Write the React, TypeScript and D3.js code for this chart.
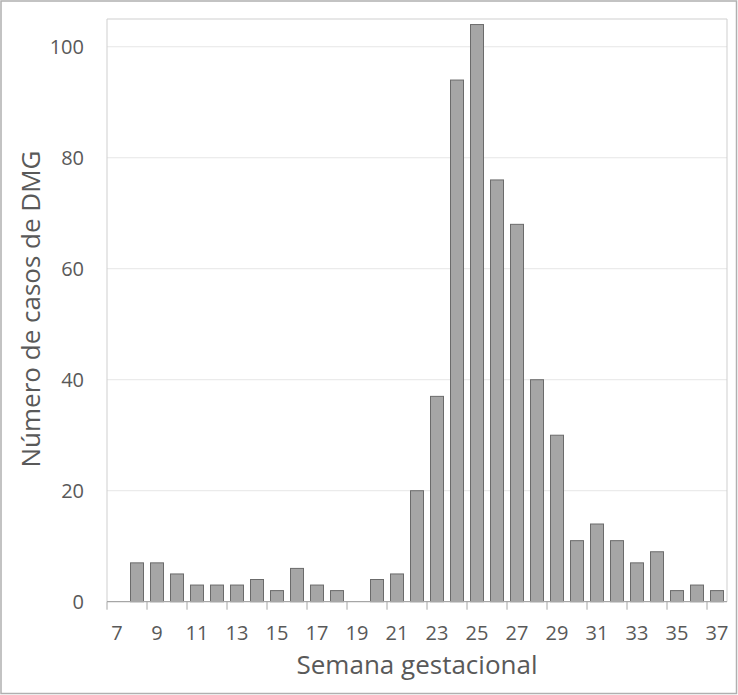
import React from "react";
import * as d3 from "d3";

const weeks: number[] = [7,8,9,10,11,12,13,14,15,16,17,18,19,20,21,22,23,24,25,26,27,28,29,30,31,32,33,34,35,36,37];
const cases: number[] = [0,7,7,5,3,3,3,4,2,6,3,2,0,4,5,20,37,94,104,76,68,40,30,11,14,11,7,9,2,3,2];
const yTicks: number[] = [0,20,40,60,80,100];
const xTickLabels: number[] = [7,9,11,13,15,17,19,21,23,25,27,29,31,33,35,37];

const W = 738, H = 695;
const left = 107, right = 727, top = 19, bottom = 601.7;

export default function App() {
  const x = d3.scaleBand<number>().domain(weeks).range([left, right]).paddingInner(0.35).paddingOuter(0.175);
  const xb = d3.scaleBand<number>().domain(weeks).range([left, right]);
  const y = d3.scaleLinear().domain([0, 105]).range([bottom, top]);
  const font = "'Open Sans', 'Liberation Sans', sans-serif";
  return (
    <div style={{ position: "absolute", left: 0, top: 0 }}>
      <svg width={W} height={H} style={{ display: "block" }}>
        <rect x={0} y={0} width={W} height={H} fill="#fff" />
        <rect x={1} y={1} width={W - 2.5} height={H - 2.5} fill="none" stroke="#b0b0b0" strokeWidth={1.5} />
        {yTicks.filter(t => t > 0).map(t => (
          <line key={t} x1={left} x2={right} y1={y(t)} y2={y(t)} stroke="#e6e6e6" strokeWidth={1} />
        ))}
        <line x1={left} x2={right} y1={top} y2={top} stroke="#cfcfcf" strokeWidth={1} />
        <line x1={left} x2={left} y1={top} y2={bottom} stroke="#cfcfcf" strokeWidth={1} />
        <line x1={right} x2={right} y1={top} y2={bottom} stroke="#cfcfcf" strokeWidth={1} />
        {weeks.map((w, i) => cases[i] > 0 ? (
          <rect key={w} x={x(w)} y={y(cases[i])} width={x.bandwidth()} height={bottom - y(cases[i])}
            fill="#a6a6a6" stroke="#6b6b6b" strokeWidth={1} />
        ) : null)}
        <line x1={left} x2={right} y1={bottom} y2={bottom} stroke="#a6a6a6" strokeWidth={1.2} />
        {xTickLabels.map(w => (
          <g key={w}>
            <line x1={xb(w)!} x2={xb(w)!} y1={bottom} y2={bottom + 8} stroke="#a6a6a6" strokeWidth={1} />
            <text x={xb(w)! + xb.bandwidth() / 2} y={640} textAnchor="middle" fontSize={20} fill="#595959" fontFamily={font}>{w}</text>
          </g>
        ))}
        {yTicks.map(t => (
          <text key={t} x={84} y={y(t) + 7} textAnchor="end" fontSize={20} fill="#595959" fontFamily={font}>{t}</text>
        ))}
        <text x={(left + right) / 2} y={674} textAnchor="middle" fontSize={26} fill="#595959" fontFamily={font}>Semana gestacional</text>
        <text transform={`translate(40, 309) rotate(-90)`} textAnchor="middle" fontSize={26} fill="#595959" fontFamily={font}>Número de casos de DMG</text>
      </svg>
    </div>
  );
}
